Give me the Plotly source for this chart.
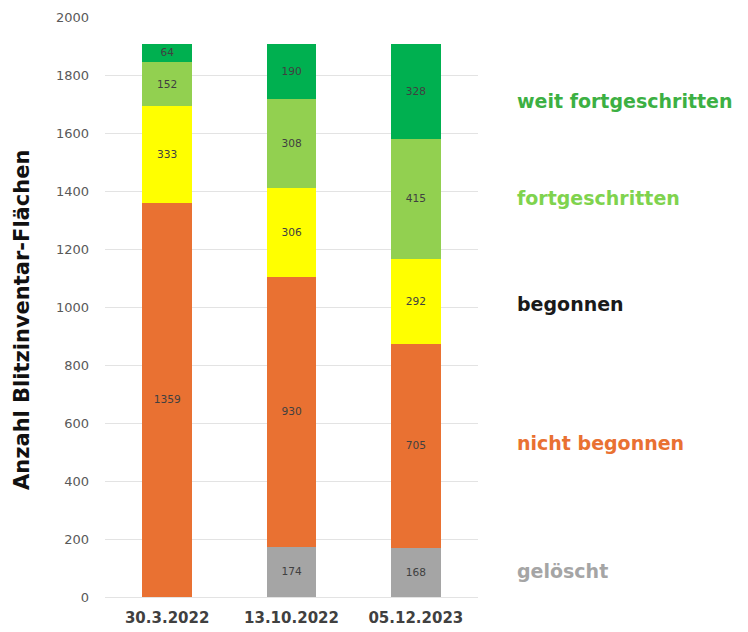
import plotly.graph_objects as go

DATES = ["30.3.2022", "13.10.2022", "05.12.2023"]

GELOESCHT = [0, 174, 168]
NICHT_BEGONNEN = [1359, 930, 705]
BEGONNEN = [333, 306, 292]
FORTGESCHRITTEN = [152, 308, 415]
WEIT_FORTGESCHRITTEN = [64, 190, 328]

SERIES = [
    ("gelöscht", GELOESCHT, "#a5a5a5", "#a5a5a5", 90),
    ("nicht begonnen", NICHT_BEGONNEN, "#e97132", "#e97132", 530),
    ("begonnen", BEGONNEN, "#ffff00", "#1a1a1a", 1010),
    ("fortgeschritten", FORTGESCHRITTEN, "#92d050", "#7fd34e", 1375),
    ("weit fortgeschritten", WEIT_FORTGESCHRITTEN, "#00b050", "#3cb043", 1710),
]

FONT = "DejaVu Sans, sans-serif"

fig = go.Figure()
for name, vals, color, label_color, label_y in SERIES:
    fig.add_trace(go.Bar(
        x=DATES, y=vals, name=name,
        marker=dict(color=color, line=dict(width=0)),
        text=[str(v) if v else "" for v in vals],
        textposition="inside", insidetextanchor="middle", textangle=0,
        textfont=dict(color="#404040", size=11, family=FONT),
        showlegend=False,
    ))
    fig.add_annotation(
        x=1.1, xref="paper", y=label_y, yref="y",
        text=f"<b>{name}</b>", showarrow=False, xanchor="left",
        font=dict(color=label_color, size=19, family=FONT),
    )

# y title as annotation: it sits a bit below the plot's centre
fig.add_annotation(
    x=-0.222, xref="paper", y=0.478, yref="paper",
    xanchor="center", yanchor="middle",
    text="<b>Anzahl Blitzinventar-Flächen</b>", textangle=-90,
    showarrow=False, font=dict(size=21, color="#111111", family=FONT),
)

# the page body adds 8px around the figure
fig.update_layout(
    barmode="stack", bargap=0.6,
    width=748, height=632,
    margin=dict(l=97, r=278, t=9, b=43, autoexpand=False),
    paper_bgcolor="white", plot_bgcolor="white",
    font=dict(family=FONT),
    uniformtext=dict(mode="show", minsize=9),
)
fig.update_xaxes(
    automargin=False,
    tickfont=dict(size=15, color="#404040", family=FONT),
    tickprefix="<b>", ticksuffix="</b>", showline=False,
    ticklabelstandoff=10,
)
fig.update_yaxes(
    automargin=False,
    range=[0, 2000], dtick=200, showgrid=True, gridcolor="#e3e3e3",
    zeroline=True, zerolinecolor="#e3e3e3", zerolinewidth=1,
    tickfont=dict(size=13, color="#595959", family=FONT),
    ticks="", ticklabelstandoff=15,
)

fig.write_html("out.html")
